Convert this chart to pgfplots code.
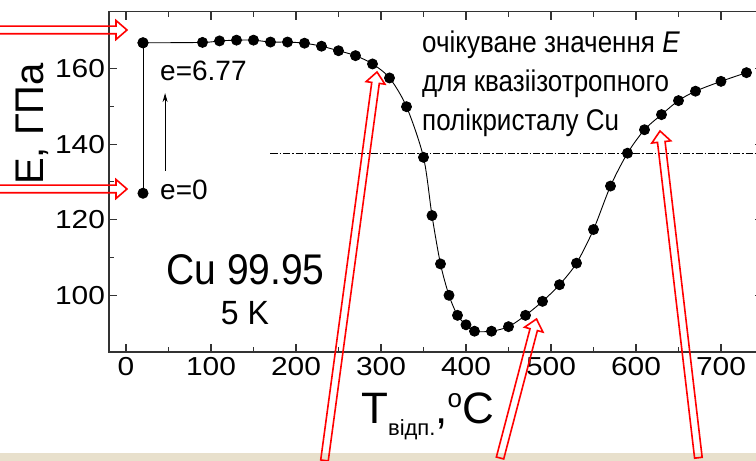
\documentclass[border=0pt]{standalone}
\usepackage{fontspec}
\setmainfont{Liberation Sans}
\usepackage{pgfplots}
\pgfplotsset{compat=1.18}
\usetikzlibrary{arrows.meta}
\definecolor{beige}{RGB}{232,224,204}
\newcommand{\hollowarrow}[4]{%
  \begin{scope}[shift={(#1pt,#2pt)}, rotate=#3]
    \draw[red, line width=1.6pt, line join=miter] (0,0) -- (-11pt,9.5pt) -- (-11pt,3.8pt) -- (-#4pt,3.8pt) -- (-#4pt,-3.8pt) -- (-11pt,-3.8pt) -- (-11pt,-9.5pt) -- cycle;
  \end{scope}}
\begin{document}
\begin{tikzpicture}
\useasboundingbox (0,0) rectangle (756pt,461pt);
\fill[beige] (0,0) rectangle (756pt,8pt);
\begin{axis}[
  at={(109pt,109pt)}, anchor=south west,
  scale only axis, width=654.5pt, height=340.2pt,
  xmin=-20, xmax=750, ymin=85, ymax=175,
  xtick={0,100,...,700}, ytick={100,120,140,160},
  minor x tick num=1, minor y tick num=1,
  tick align=inside,
  major tick length=8pt, minor tick length=5pt,
  axis line style={line width=1.2pt, black!80},
  every tick/.style={line width=1.1pt, black!80},
  /pgf/number format/assume math mode=true,
  ticklabel style={font=\fontsize{26}{26}\selectfont, xscale=1.15},
  xticklabel style={yshift=-2pt},
  clip=false,
]
\addplot[black, line width=1pt, mark=*, mark size=5pt] coordinates {(20,127.0) (20,166.8)};
\addplot[black, line width=0.9pt, smooth, tension=0.5, mark=*, mark size=5pt] coordinates {
(20,166.8) (90,166.9) (110,167.3) (130,167.5) (150,167.5) (170,167.0) (190,167.0)
(210,166.7) (230,165.9) (250,164.7) (270,163.4) (290,161.2) (310,157.5) (330,149.9)
(350,136.5) (360,121.1) (370,108.3) (380,100.0) (390,94.7) (400,92.2) (410,90.5)
(430,90.5) (450,91.7) (470,94.7) (490,98.4) (510,102.8) (530,108.5) (550,117.4)
(570,128.9) (590,137.6) (610,143.8) (630,147.8) (650,151.5) (670,154.0) (700,156.6)
(730,158.9)};
\addplot[black, line width=0.8pt, dash pattern=on 7pt off 2pt on 1.5pt off 2pt] coordinates {(170,137.6) (750,137.6)};
\draw[black, line width=0.8pt, -{Stealth[length=9pt,width=5pt]}] (axis cs:46,133) -- (axis cs:46,153.5);
\end{axis}
% texts
\node[anchor=base west, inner sep=0pt, font=\fontsize{28}{28}\selectfont] at (160pt,380pt) {e=6.77};
\node[anchor=base west, inner sep=0pt, font=\fontsize{28}{28}\selectfont] at (160pt,261.7pt) {e=0};
\node[anchor=base, inner sep=0pt, yscale=1.1, font=\fontsize{39}{39}\selectfont] at (245.5pt,176pt) {Cu 99.95};
\node[anchor=base, inner sep=0pt, yscale=1.05, font=\fontsize{32}{32}\selectfont] at (245pt,136pt) {5 K};
\begin{scope}[every node/.style={anchor=base west, inner sep=0pt, yscale=1.15, font=\fontsize{26}{26}\selectfont}]
\node at (422pt,408pt) {очікуване значення \textit{E}};
\node at (422pt,369pt) {для квазіізотропного};
\node at (422pt,330pt) {полікристалу Cu};
\end{scope}
\node[anchor=base, rotate=90, inner sep=0pt, font=\fontsize{40}{40}\selectfont] at (43pt,337pt) {E, ГПа};
\node[anchor=base west, inner sep=0pt, font=\fontsize{44}{44}\selectfont] at (361pt,37pt) {T\raisebox{-12pt}{\fontsize{22}{22}\selectfont відп.},\raisebox{16pt}{\fontsize{26}{26}\selectfont o}C};
% red annotation arrows
\hollowarrow{127}{431}{0}{140}
\hollowarrow{127}{272}{0}{140}
\hollowarrow{377}{389}{82.3}{392}
\hollowarrow{536.5}{142}{75.3}{143.7}
\hollowarrow{660}{330}{96.7}{329}
\end{tikzpicture}
\end{document}
